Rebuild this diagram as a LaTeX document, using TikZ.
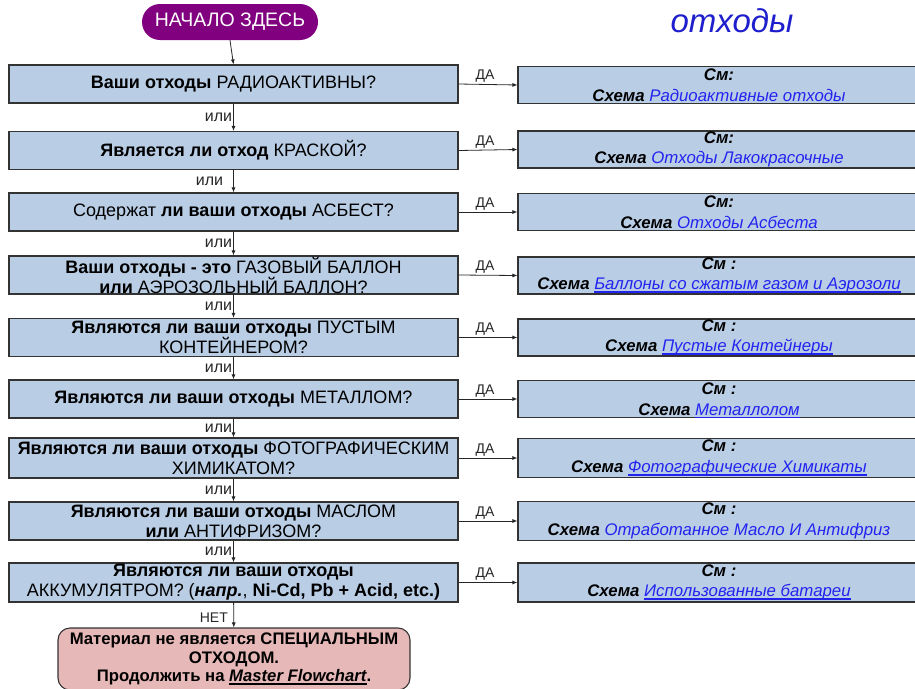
\documentclass[tikz,border=0pt]{standalone}
\usepackage{fontspec}
\setmainfont{Liberation Sans}
\usetikzlibrary{arrows.meta}
\definecolor{boxblue}{RGB}{185,205,229}
\definecolor{endpink}{RGB}{230,184,183}
\definecolor{startpurple}{RGB}{128,0,128}
\definecolor{linkblue}{RGB}{35,35,240}
\definecolor{titleblue}{RGB}{30,30,205}
\newcommand{\qsize}{\fontsize{18}{20}\selectfont}
\newcommand{\rsize}{\fontsize{16.8}{20.5}\selectfont}
% underline drawn as a rule of visible thickness, without changing line depth
\newsavebox\ulbox
\newcommand{\uline}[1]{\sbox\ulbox{#1}\leavevmode\rlap{\usebox\ulbox}%
  \raisebox{-3.2pt}[0pt][0pt]{\rule{\wd\ulbox}{1.6pt}}}
\newcommand{\lnk}[1]{\textcolor{linkblue}{\mdseries #1}}
\newcommand{\ulnk}[1]{\textcolor{linkblue}{\mdseries\uline{#1}}}
\tikzset{
  qbox/.style={draw=black!80, fill=boxblue, line width=1.1pt, minimum width=449pt,
    minimum height=38pt, inner sep=0pt, align=center, font=\qsize},
  rbox/.style={draw=black!80, fill=boxblue, line width=1.1pt, minimum width=402pt,
    minimum height=37pt, inner sep=0pt, align=center, font=\rsize\bfseries\itshape},
  arr/.style={draw=black!85, line width=0.8pt, -{Latex[length=5pt,width=4pt]}},
  lbl/.style={font=\fontsize{16}{16}\selectfont, text=black!85, inner sep=1pt},
  yes/.style={font=\fontsize{14}{14}\selectfont, text=black!85, inner sep=1.5pt},
}
\begin{document}
\begin{tikzpicture}[x=1pt,y=-1pt]
\useasboundingbox (0,0) rectangle (915,688);

% start terminal and heading
\node[fill=startpurple, text=white, rounded corners=18pt, minimum width=176pt,
  minimum height=36pt, inner sep=0pt, font=\fontsize{19.5}{22}\selectfont]
  (start) at (230,22) {НАЧАЛО ЗДЕСЬ};
\node[text=titleblue, font=\fontsize{33}{36}\selectfont\itshape] (title) at (732,21) {отходы};

% questions
\node[qbox] (q1) at (233.5,84)   {\textbf{Ваши отходы} РАДИОАКТИВНЫ?};
\node[qbox] (q2) at (233.5,150.5){\textbf{Является ли отход} КРАСКОЙ?};
\node[qbox] (q3) at (233.5,212)  {Содержат \textbf{ли ваши отходы} АСБЕСТ?};
\node[qbox] (q4) at (233.5,275)  {\textbf{Ваши отходы - это} ГАЗОВЫЙ БАЛЛОН\\\textbf{или} АЭРОЗОЛЬНЫЙ БАЛЛОН?};
\node[qbox] (q5) at (233.5,337.5){\textbf{Являются ли ваши отходы} ПУСТЫМ\\КОНТЕЙНЕРОМ?};
\node[qbox] (q6) at (233.5,399)  {\textbf{Являются ли ваши отходы} МЕТАЛЛОМ?};
\node[qbox, minimum height=40pt] (q7) at (233.5,458) {\textbf{Являются ли ваши отходы} ФОТОГРАФИЧЕСКИМ\\ХИМИКАТОМ?};
\node[qbox] (q8) at (233.5,521)  {\textbf{Являются ли ваши отходы} МАСЛОМ\\\textbf{или} АНТИФРИЗОМ?};
\node[qbox, minimum height=39pt] (q9) at (233.5,582.5) {\textbf{Являются ли ваши отходы}\\АККУМУЛЯТРОМ? (\textbf{\textit{напр.}}, \textbf{Ni-Cd, Pb + Acid, etc.)}};

% referrals
\node[rbox] (r1) at (719,85)    {См:\\Схема \lnk{Радиоактивные отходы}};
\node[rbox] (r2) at (719,149.5) {См:\\Схема \lnk{Отходы Лакокрасочные}};
\node[rbox] (r3) at (719,212)   {См:\\Схема \lnk{Отходы Асбеста}};
\node[rbox] (r4) at (719,275.5) {См :\\Схема \ulnk{Баллоны со сжатым газом и Аэрозоли}};
\node[rbox] (r5) at (719,337.5) {См :\\Схема \ulnk{Пустые Контейнеры}};
\node[rbox] (r6) at (719,399)   {См :\\Схема \ulnk{Металлолом}};
\node[rbox, minimum height=39pt] (r7) at (719,458) {См :\\Схема \ulnk{Фотографические Химикаты}};
\node[rbox, minimum height=39pt] (r8) at (719,521) {См :\\Схема \lnk{Отработанное Масло И Антифриз}};
\node[rbox, minimum height=39pt] (r9) at (719,582.5) {См :\\Схема \ulnk{Использованные батареи}};

% outcome
\node[draw=black!80, fill=endpink, line width=1.1pt, rounded corners=12pt,
  minimum width=352pt, minimum height=62pt, inner sep=0pt, align=center,
  font=\fontsize{16.7}{18.5}\selectfont\bfseries] (done) at (234,659)
  {Материал не является СПЕЦИАЛЬНЫМ\\ОТХОДОМ.\\Продолжить на \textit{\uline{Master Flowchart}}.};

% connectors
\draw[arr] (start.south) -- (q1.north);
\foreach \i in {1,...,9} {
  \draw[arr] (q\i.east) -- node[yes, above, pos=0.45] {ДА} (r\i.west);
}
\draw[arr] (q1) -- node[lbl, left, pos=0.5] {или} (q2);
\draw[arr] (q2) -- node[lbl, left, pos=0.5, xshift=-9pt] {или} (q3);
\draw[arr] (q3) -- node[lbl, left, pos=0.5] {или} (q4);
\draw[arr] (q4) -- node[lbl, left, pos=0.5] {или} (q5);
\draw[arr] (q5) -- node[lbl, left, pos=0.5] {или} (q6);
\draw[arr] (q6) -- node[lbl, left, pos=0.5] {или} (q7);
\draw[arr] (q7) -- node[lbl, left, pos=0.5] {или} (q8);
\draw[arr] (q8) -- node[lbl, left, pos=0.5] {или} (q9);
\draw[arr] (q9) -- node[yes, left, pos=0.62, xshift=-4pt] {НЕТ} (done);
\end{tikzpicture}
\end{document}
